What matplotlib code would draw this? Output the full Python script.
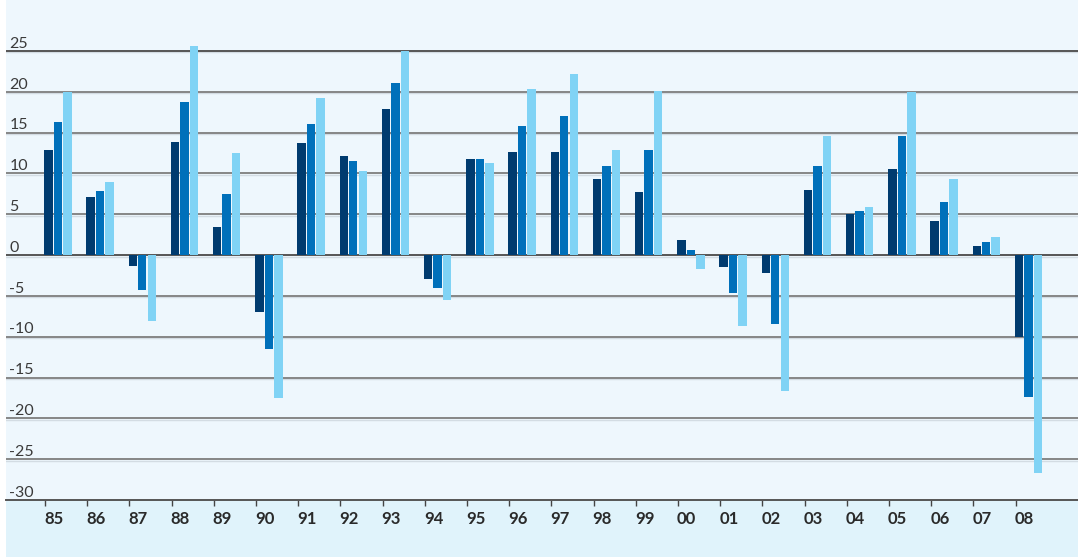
import numpy as np
import matplotlib
matplotlib.use("Agg")
import matplotlib.pyplot as plt
from matplotlib.patches import Rectangle
import matplotlib.transforms as mtransforms

plt.rcParams['font.family'] = ['Lato', 'DejaVu Sans']

# Years and the three series
years = ["85", "86", "87", "88", "89", "90", "91", "92", "93", "94", "95", "96",
         "97", "98", "99", "00", "01", "02", "03", "04", "05", "06", "07", "08"]
series_dark = [12.9, 7.1, -1.3, 13.8, 3.5, -7.0, 13.7, 12.2, 17.9, -2.9, 11.8, 12.6,
               12.6, 9.3, 7.7, 1.8, -1.5, -2.2, 8.0, 5.0, 10.5, 4.2, 1.1, -10.0]
series_mid = [16.3, 7.8, -4.3, 18.7, 7.5, -11.5, 16.1, 11.5, 21.1, -4.0, 11.8, 15.8,
              17.0, 10.9, 12.9, 0.6, -4.7, -8.5, 10.9, 5.4, 14.6, 6.5, 1.6, -17.4]
series_light = [20.0, 8.9, -8.1, 25.6, 12.5, -17.5, 19.2, 10.3, 25.0, -5.5, 11.3, 20.3,
                22.2, 12.9, 20.1, -1.7, -8.7, -16.7, 14.6, 5.9, 20.0, 9.3, 2.2, -26.7]
y_ticks = [25, 20, 15, 10, 5, 0, -5, -10, -15, -20, -25, -30]

colors = ["#003b6f", "#0070ba", "#80d3f5"]

fig = plt.figure(figsize=(10.78, 5.57), dpi=100, facecolor="white")
W, H = 1078, 557
# bottom band
fig.add_artist(Rectangle((6 / W, 0), 1 - 6 / W, 1, transform=fig.transFigure,
                         facecolor="#e0f3fb", edgecolor="none", zorder=-10))
ax = fig.add_axes([6 / W, (H - 500) / H, 1 - 6 / W, 500 / H])
ax.set_facecolor("#eef7fd")

x = np.arange(len(years))
w = 0.2
offs = [0.08, 0.305, 0.53]
for vals, c, o in zip([series_dark, series_mid, series_light], colors, offs):
    ax.bar(x + o, vals, width=w, color=c, zorder=3, linewidth=0)

ax.set_xlim(-0.924, 24.48)
ax.set_ylim(-30, 31.25)

for v in y_ticks:
    if v == -30:
        continue
    col = "#555555" if v in (25, 0) else "#868686"
    ax.axhline(v, color=col, lw=1.4, zorder=2)
    ax.axhline(v - 0.18, color="#d3dce3", lw=1.0, zorder=1)

trans = mtransforms.blended_transform_factory(ax.transAxes, ax.transData)
for v in y_ticks:
    ax.text(0.003, v + 0.4, str(v), transform=trans, ha="left", va="baseline",
            fontsize=11.5, color="#3a3a3a")

for s in ["top", "right", "left"]:
    ax.spines[s].set_visible(False)
ax.spines["bottom"].set_color("#555555")
ax.spines["bottom"].set_linewidth(1.4)

ax.set_yticks([])
ax.set_xticks(x)
ax.set_xticklabels(years, ha="left", fontsize=12, fontweight="bold", color="#2a2a2a")
ax.tick_params(axis="x", length=4, width=1, color="#444444", pad=4)
offset = mtransforms.ScaledTranslation(-1 / 100, 0, fig.dpi_scale_trans)
for lbl in ax.get_xticklabels():
    lbl.set_transform(lbl.get_transform() + offset)

plt.savefig("out.png", dpi=100, facecolor=fig.get_facecolor())
